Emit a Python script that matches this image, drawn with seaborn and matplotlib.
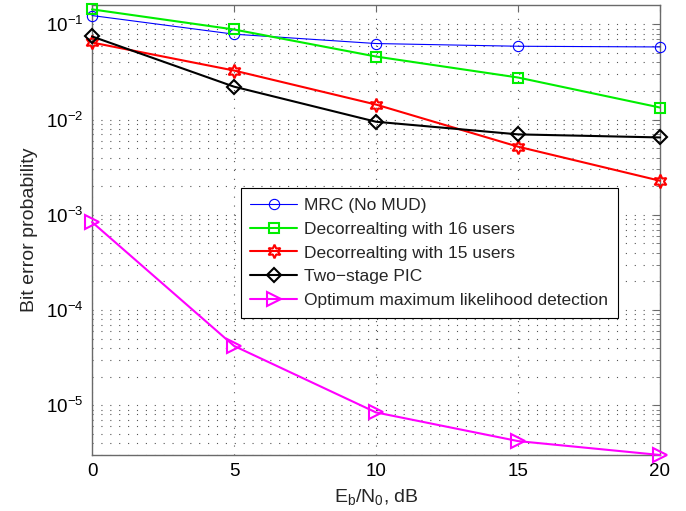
import matplotlib
matplotlib.use("Agg")
import matplotlib.pyplot as plt
import seaborn as sns
import pandas as pd
from matplotlib.ticker import LogLocator, NullFormatter, FixedLocator

# ---- data ----
ebn0_db = [0, 5, 10, 15, 20]
ber_mrc = [0.124, 0.079, 0.063, 0.059, 0.058]
ber_decor16 = [0.144, 0.0885, 0.046, 0.0277, 0.0134]
ber_decor15 = [0.0646, 0.0328, 0.0144, 0.0052, 0.00228]
ber_pic = [0.0748, 0.0222, 0.0095, 0.0070, 0.0065]
ber_ml = [8.4e-4, 4.2e-5, 8.4e-6, 4.2e-6, 3.0e-6]
series_names = ["MRC (No MUD)", "Decorrealting with 16 users",
                "Decorrealting with 15 users", "Two\u2212stage PIC",
                "Optimum maximum likelihood detection"]
x_ticks = [0, 5, 10, 15, 20]

sns.set_style("white")
plt.rcParams["font.family"] = ["Liberation Sans", "DejaVu Sans"]
plt.rcParams["mathtext.fontset"] = "custom"
plt.rcParams["mathtext.rm"] = "Liberation Sans"
plt.rcParams["mathtext.it"] = "Liberation Sans:italic"
plt.rcParams["mathtext.bf"] = "Liberation Sans:bold"

fig = plt.figure(figsize=(6.86, 5.11), dpi=100)
ax = fig.add_axes([92 / 686, 56 / 511, 568 / 686, 450 / 511])

styles = [
    dict(color="#0000ff", marker="o", lw=0.8, ms=7.4, mew=0.8),
    dict(color="#00ee00", marker="s", lw=1.5, ms=7.6, mew=1.5),
    dict(color="#ff0000", marker=(6, 1, 0), lw=1.5, ms=9.8, mew=1.5),
    dict(color="#000000", marker="D", lw=1.5, ms=7.0, mew=1.5),
    dict(color="#ff00ff", marker=">", lw=1.5, ms=10.5, mew=1.5),
]
all_series = [ber_mrc, ber_decor16, ber_decor15, ber_pic, ber_ml]

for name, vals, st in zip(series_names, all_series, styles):
    df = pd.DataFrame({"x": ebn0_db, "y": vals})
    sns.lineplot(data=df, x="x", y="y", ax=ax, label=name,
                 color=st["color"], marker=st["marker"], linewidth=st["lw"],
                 markersize=st["ms"], markerfacecolor="none",
                 markeredgecolor=st["color"], markeredgewidth=st["mew"],
                 clip_on=False, zorder=3)

ax.set_yscale("log")
ax.set_xlim(0, 20)
ax.set_ylim(3e-6, 0.16)
ax.xaxis.set_major_locator(FixedLocator(x_ticks))
ax.yaxis.set_major_locator(LogLocator(base=10, numticks=20))
ax.yaxis.set_minor_locator(LogLocator(base=10, subs=range(2, 10), numticks=50))
ax.yaxis.set_minor_formatter(NullFormatter())

grid_kw = dict(color="#555555", linestyle=(0, (1, 7)), linewidth=0.8)
ax.grid(True, which="both", axis="y", **grid_kw)
ax.grid(True, which="major", axis="x", **grid_kw)
ax.set_axisbelow(True)

for sp in ax.spines.values():
    sp.set_color("#6a6a6a")
    sp.set_linewidth(1.0)
ax.tick_params(which="both", direction="in", top=True, right=True,
               colors="#6a6a6a", labelcolor="black", labelsize=13.5)
ax.tick_params(which="major", length=5, width=0.8)
ax.tick_params(which="minor", length=3, width=0.6)
ax.tick_params(axis="x", pad=6)
ax.tick_params(axis="y", pad=6)

ax.set_xlabel(r"E$_\mathrm{b}$/N$_\mathrm{0}$, dB", fontsize=14, labelpad=5)
ax.set_ylabel("Bit error probability", fontsize=14, labelpad=6)

leg = ax.legend(loc="upper left", bbox_to_anchor=(0.262, 0.593),
                borderaxespad=0, fontsize=12.5, frameon=True, fancybox=False,
                framealpha=1, edgecolor="black", handlelength=2.7,
                handletextpad=0.4, labelspacing=0.5, borderpad=0.55)
leg.get_frame().set_linewidth(0.8)
leg.set_zorder(5)

fig.savefig("out.png", dpi=100)
